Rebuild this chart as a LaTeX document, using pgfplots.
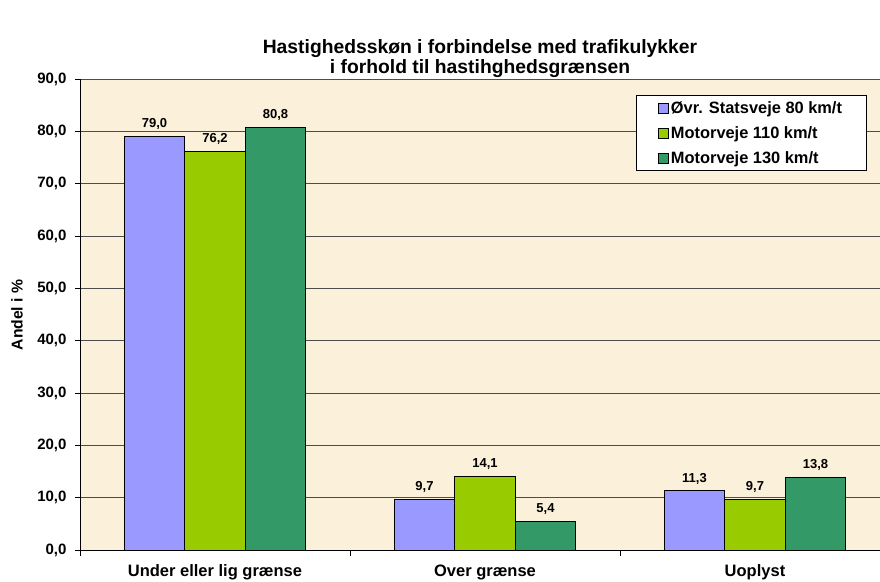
\documentclass[border=0pt]{standalone}
\usepackage{fontspec}
\setmainfont{Liberation Sans}
\usepackage{pgfplots}
\pgfplotsset{compat=1.18}
\definecolor{cA}{HTML}{9999FF}
\definecolor{cB}{HTML}{99CC00}
\definecolor{cC}{HTML}{339966}
\definecolor{bg}{HTML}{FBF0DA}
\begin{document}
\begin{tikzpicture}[x=1pt,y=1pt]
\useasboundingbox (-80,-31) rectangle (800,550);
\begin{axis}[at={(0,0)}, anchor=south west, scale only axis, width=800pt, height=471pt,
  xmin=-0.5, xmax=2.463, ymin=0, ymax=90,
  ybar=0pt, bar width=60.5pt,
  axis x line*=bottom, axis y line*=left,
  axis line style={black, line width=0.7pt},
  ytick={0,10,...,90}, ymajorgrids, grid style={black!70, line width=0.7pt},
  yticklabel style={font=\fontsize{15}{17}\selectfont\bfseries, xshift=-5pt, /pgf/number format/.cd, fixed, fixed zerofill, precision=1, use comma, assume math mode=true},
  xticklabel style={font=\fontsize{16.5}{18}\selectfont\bfseries, yshift=-6pt},
  xtick={0,1,2}, xticklabels={Under eller lig grænse, Over grænse, Uoplyst},
  major x tick style={draw=none},
  minor xtick={-0.5,0.5,1.5},
  tick style={black, line width=0.7pt}, tick align=outside, major tick length=5pt, minor tick length=6pt,
  axis background/.style={fill=bg},
  nodes near coords,
  every node near coord/.append style={font=\fontsize{13}{15}\selectfont\bfseries, yshift=3pt, /pgf/number format/.cd, fixed, fixed zerofill, precision=1, use comma, assume math mode=true},
  legend style={at={(0.695,0.966)}, anchor=north west, draw=black, fill=white, line width=0.7pt,
    font=\fontsize{16.4}{18}\selectfont\bfseries, row sep=7.5pt, inner xsep=22pt, inner ysep=4pt},
  legend cell align=left,
  legend image code/.code={\draw[#1, draw=black, line width=0.6pt] (0pt,-5pt) rectangle (10pt,5pt);},
]
\addplot[fill=cA, draw=black, line width=1pt] coordinates {(0,79.0) (1,9.7) (2,11.3)};
\addplot[fill=cB, draw=black, line width=1pt] coordinates {(0,76.2) (1,14.1) (2,9.7)};
\addplot[fill=cC, draw=black, line width=1pt] coordinates {(0,80.8) (1,5.4) (2,13.8)};
\legend{Øvr. Statsveje 80 km/t, Motorveje 110 km/t, Motorveje 130 km/t}
\end{axis}
\node[font=\fontsize{19.3}{20}\selectfont\bfseries, align=center] at (400,491) {Hastighedsskøn i forbindelse med trafikulykker\\i forhold til hastihghedsgrænsen};
\node[font=\fontsize{15.7}{18}\selectfont\bfseries, rotate=90] at (-63,235) {Andel i \%};
\end{tikzpicture}
\end{document}
